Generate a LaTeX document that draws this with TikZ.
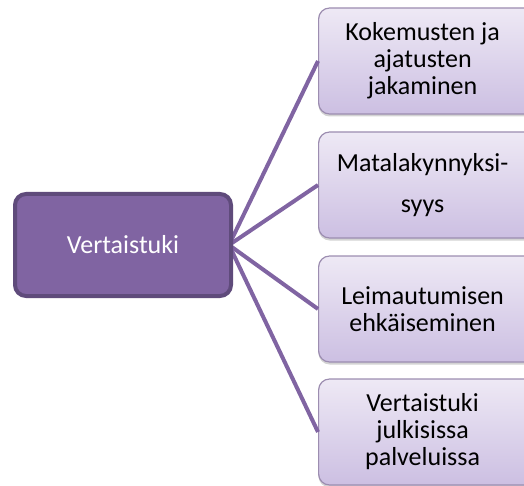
\documentclass[tikz,border=0pt]{standalone}
\usepackage{fontspec}
\setmainfont{Carlito}
\usetikzlibrary{shadows}
\definecolor{hubfill}{HTML}{8064A2}
\definecolor{hubline}{HTML}{5F4B7B}
\definecolor{leaftop}{HTML}{EEE9F5}
\definecolor{leafbot}{HTML}{CCBFE2}
\definecolor{leafline}{HTML}{9C8DB0}
\tikzset{
  hubbox/.style={rectangle, rounded corners=11pt, draw=hubline, line width=4pt, fill=hubfill,
    minimum width=216pt, minimum height=102pt, text=white, font=\fontsize{26}{26}\selectfont},
  leafbox/.style={rectangle, rounded corners=11pt, draw=leafline, line width=1.2pt,
    top color=leaftop, bottom color=leafbot, minimum width=218pt, minimum height=106pt,
    anchor=west, align=center, font=\fontsize{26}{27}\selectfont, inner xsep=0pt,
    drop shadow={shadow xshift=0pt, shadow yshift=-2.5pt, opacity=0.35}},
  link/.style={draw=hubfill, line width=4pt}
}
\begin{document}
\begin{tikzpicture}[x=1pt,y=-1pt]
\useasboundingbox (0,0) rectangle (524,486);
\clip (0,0) rectangle (524,486);
\coordinate (hub) at (229,245);
\node[leafbox] (r1) at (318,61) {\hspace*{-10pt}Kokemusten ja\\\hspace*{-10pt}ajatusten\\\hspace*{-10pt}jakaminen};
\node[leafbox] (r2) at (318,185) {\hspace*{-10pt}Matalakynnyksi-\\[14pt]\hspace*{-10pt}syys};
\node[leafbox] (r3) at (318,309) {\hspace*{-10pt}Leimautumisen\\\hspace*{-10pt}ehkäiseminen};
\node[leafbox] (r4) at (318,432) {\hspace*{-10pt}Vertaistuki\\\hspace*{-10pt}julkisissa\\\hspace*{-10pt}palveluissa};
\draw[link] (hub) -- (r1.west);
\draw[link] (hub) -- (r2.west);
\draw[link] (hub) -- (r3.west);
\draw[link] (hub) -- (r4.west);
\node[hubbox] (l) at (123,245) {Vertaistuki};
\end{tikzpicture}
\end{document}
